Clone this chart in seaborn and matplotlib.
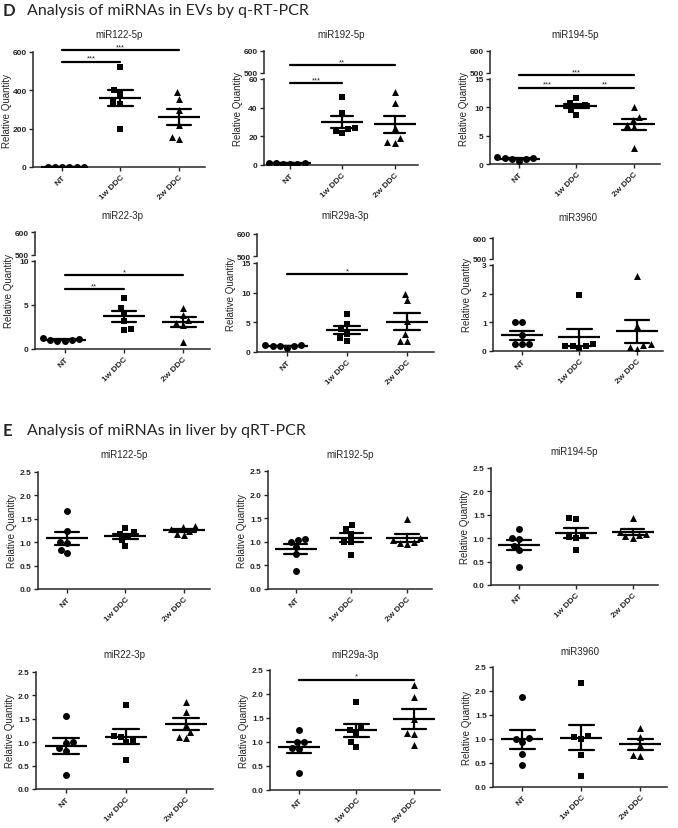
import numpy as np
import pandas as pd
import matplotlib
matplotlib.use("Agg")
import matplotlib.pyplot as plt
import seaborn as sns

# ---------------- data ----------------
groups = ["NT", "1w DDC", "2w DDC"]
group_markers = ["o", "s", "^"]

# Panel D: miRNAs in EVs (q-RT-PCR), lists = [NT, 1w DDC, 2w DDC]
ev_mir122_5p = [[0.8, 1.0, 1.2, 0.9, 1.1, 1.0],
                [520, 400, 380, 340, 330, 200],
                [390, 355, 300, 220, 145, 155]]
ev_mir192_5p = [[1.2, 0.8, 1.5, 1.0, 0.9, 1.1],
                [47.6, 36, 26, 25, 24, 22],
                [50.7, 43, 25.5, 19, 15.5, 16]]
ev_mir194_5p = [[1.0, 0.9, 1.2, 0.5, 0.8, 1.0],
                [11.7, 10.8, 10.5, 10.2, 9.6, 8.7],
                [10.0, 8.3, 7.7, 6.8, 6.5, 2.9]]
ev_mir22_3p = [[1.1, 1.0, 0.9, 1.3, 1.0, 0.9],
               [5.8, 4.7, 4.0, 3.2, 2.3, 2.2],
               [4.7, 3.9, 3.3, 2.9, 2.7, 0.8]]
ev_mir29a_3p = [[1.0, 1.0, 0.7, 1.2, 1.0, 1.1],
                [6.45, 4.8, 3.8, 3.1, 2.3, 1.9],
                [9.8, 8.7, 5.2, 3.0, 1.9, 1.9]]
ev_mir3960 = [[1.0, 1.0, 0.55, 0.25, 0.25, 0.25],
              [1.95, 0.26, 0.18, 0.18, 0.18, 0.1],
              [2.6, 0.86, 0.24, 0.2, 0.15, 0.08]]

# Panel E: miRNAs in liver (qRT-PCR)
liver_mir122_5p = [[1.66, 1.24, 1.0, 0.98, 0.84, 0.77],
                   [1.31, 1.21, 1.18, 1.11, 1.04, 0.91],
                   [1.35, 1.32, 1.28, 1.25, 1.18, 1.15]]
liver_mir192_5p = [[1.05, 1.03, 1.0, 0.89, 0.74, 0.39],
                   [1.35, 1.27, 1.17, 1.0, 0.99, 0.71],
                   [1.49, 1.08, 1.03, 0.99, 0.98, 0.96]]
liver_mir194_5p = [[1.19, 1.0, 0.99, 0.84, 0.74, 0.38],
                   [1.43, 1.41, 1.06, 1.02, 1.0, 0.74],
                   [1.44, 1.13, 1.09, 1.07, 1.04, 1.01]]
liver_mir22_3p = [[1.55, 1.0, 0.99, 0.88, 0.82, 0.29],
                  [1.79, 1.14, 1.11, 1.04, 1.0, 0.63],
                  [1.86, 1.64, 1.37, 1.21, 1.11, 1.09]]
liver_mir29a_3p = [[1.25, 1.0, 0.99, 0.88, 0.85, 0.36],
                   [1.84, 1.3, 1.26, 1.19, 1.0, 0.9],
                   [2.18, 1.94, 1.47, 1.18, 1.16, 0.94]]
liver_mir3960 = [[1.88, 1.02, 1.01, 0.94, 0.69, 0.45],
                 [2.17, 1.06, 1.04, 1.0, 0.66, 0.22],
                 [1.23, 1.04, 0.87, 0.66, 0.65]]

panel_titles = ["miR122-5p", "miR192-5p", "miR194-5p", "miR22-3p", "miR29a-3p", "miR3960"]
ev_yticks = [[0, 200, 400, 600], [0, 20, 40, 60], [0, 5, 10, 15],
             [0, 5, 10], [0, 5, 10, 15], [0, 1, 2, 3]]
break_ticks = [500, 600]
liver_yticks = [0.0, 0.5, 1.0, 1.5, 2.0, 2.5]

# significance annotations: (panel, x0, x1, y, text, segment)
ev_sig = [(0, 0, 1, 550, "***", "low"), (0, 0, 2, 609, "***", "low"),
          (1, 0, 1, 57, "***", "low"), (1, 0, 2, 535, "**", "top"),
          (2, 0, 1, 13.5, "***", "low"), (2, 1, 2, 13.5, "**", "low"), (2, 0, 2, 15.7, "***", "low"),
          (3, 0, 1, 6.8, "**", "low"), (3, 0, 2, 8.4, "*", "low"),
          (4, 0, 2, 13.1, "*", "low")]
liver_sig = [(4, 0, 2, 2.30, "*")]

# ---------------- style ----------------
sns.set_theme(style="ticks")
plt.rcParams["font.family"] = ["Liberation Sans", "DejaVu Sans"]
plt.rcParams["axes.linewidth"] = 1.1

W, H = 678, 829
fig = plt.figure(figsize=(W / 100, H / 100), dpi=100)


def px_axes(x0, x1, ytop, ybot):
    return fig.add_axes([x0 / W, 1 - ybot / H, (x1 - x0) / W, (ybot - ytop) / H])


def style_axes(ax):
    sns.despine(ax=ax)
    ax.tick_params(axis="both", direction="out", length=3, width=1.0, labelsize=6, pad=1.5)
    for lab in ax.get_yticklabels() + ax.get_xticklabels():
        lab.set_fontweight("bold")
    ax.set_xlabel("")
    ax.set_ylabel("")
    ax.set_xlim(-0.5, 2.45)


def draw_data(ax, values):
    df = pd.DataFrame({"group": np.repeat(groups, [len(v) for v in values]),
                       "value": np.concatenate(values)})
    for g, m in zip(groups, group_markers):
        sns.swarmplot(data=df[df["group"] == g], x="group", y="value", order=groups,
                      marker=m, color="black", size=5, ax=ax, warn_thresh=1.0)
    sns.pointplot(data=df, x="group", y="value", order=groups, errorbar="se",
                  color="black", markers="_", linestyle="none", capsize=0.42,
                  markersize=30, markeredgewidth=1.6, markeredgecolor="black",
                  err_kws={"linewidth": 1.6}, ax=ax, zorder=5)


def set_xcats(ax):
    ax.set_xticks(range(3))
    ax.set_xticklabels(groups, rotation=45, ha="right", rotation_mode="anchor",
                       fontsize=6, fontweight="bold")


def sig_bar(ax, x0, x1, y, text):
    ax.plot([x0, x1], [y, y], color="black", lw=1.6, clip_on=False, zorder=6)
    ax.text((x0 + x1) / 2, y, text, ha="center", va="bottom", fontsize=5.5, clip_on=False)


def panel_label(x_spine, x_end, ytop, ybot, ytitle, title):
    fig.text((x_spine + x_end) / 2 / W, 1 - ytitle / H, title, ha="center", va="center",
             fontsize=7)
    fig.text((x_spine - 26) / W, 1 - (ytop + ybot) / 2 / H, "Relative Quantity",
             rotation=90, ha="center", va="center", fontsize=7)


# layout in pixels: (spine x, end x, top, top-seg bottom, low-seg top, bottom, title y)
ev_layout = [(33, 205, 53, None, None, 168, 35),
             (264, 418, 52, 74, 80, 166, 35),
             (490, 660, 52, 74, 80, 165, 35),
             (35, 210, 233, 256, 262, 350, 216),
             (257, 434, 235, 257, 264, 353, 216),
             (493, 663, 239, 260, 266, 352, 218)]
liver_layout = [(38, 210, 473, 590, 455),
                (268, 432, 472, 590, 455),
                (491, 658, 469, 586, 452),
                (36, 213, 673, 790, 655),
                (270, 440, 671, 791, 655),
                (493, 667, 668, 788, 652)]

ev_data = [ev_mir122_5p, ev_mir192_5p, ev_mir194_5p, ev_mir22_3p, ev_mir29a_3p, ev_mir3960]
liver_data = [liver_mir122_5p, liver_mir192_5p, liver_mir194_5p,
              liver_mir22_3p, liver_mir29a_3p, liver_mir3960]

# ---------------- panel D ----------------
ev_axes = []
for i, (xs, xe, yt, ytb, ylt, yb, ytl) in enumerate(ev_layout):
    if ytb is None:
        low = px_axes(xs, xe, yt, yb)
        top = None
    else:
        top = px_axes(xs, xe, yt, ytb)
        low = px_axes(xs, xe, ylt, yb)
    draw_data(low, ev_data[i])
    style_axes(low)
    low.set_ylim(0, ev_yticks[i][-1])
    low.set_yticks(ev_yticks[i])
    set_xcats(low)
    if top is not None:
        style_axes(top)
        top.set_ylim(break_ticks[0], break_ticks[-1])
        top.set_yticks(break_ticks)
        top.set_yticklabels([str(t) for t in break_ticks], fontsize=6, fontweight="bold")
        top.spines["bottom"].set_visible(False)
        top.set_xticks([])
    ev_axes.append((top, low))
    panel_label(xs, xe, yt, yb, ytl, panel_titles[i])

for (p, x0, x1, y, txt, seg) in ev_sig:
    top, low = ev_axes[p]
    sig_bar(top if seg == "top" else low, x0, x1, y, txt)

# ---------------- panel E ----------------
liver_axes = []
for i, (xs, xe, yt, yb, ytl) in enumerate(liver_layout):
    ax = px_axes(xs, xe, yt, yb)
    draw_data(ax, liver_data[i])
    style_axes(ax)
    ax.set_ylim(0, 2.5)
    ax.set_yticks(liver_yticks)
    ax.set_yticklabels([f"{t:.1f}" for t in liver_yticks], fontsize=6, fontweight="bold")
    set_xcats(ax)
    liver_axes.append(ax)
    panel_label(xs, xe, yt, yb, ytl, panel_titles[i])

for (p, x0, x1, y, txt) in liver_sig:
    sig_bar(liver_axes[p], x0, x1, y, txt)

# ---------------- section headers ----------------
fig.text(3 / W, 1 - 11 / H, "D", fontsize=12, fontweight="bold", family="Lato", va="center")
fig.text(27 / W, 1 - 11 / H, "Analysis of miRNAs in EVs by q-RT-PCR", fontsize=11.5,
         family="Lato", va="center")
fig.text(3 / W, 1 - 431 / H, "E", fontsize=12, fontweight="bold", family="Lato", va="center")
fig.text(27 / W, 1 - 431 / H, "Analysis of miRNAs in liver by qRT-PCR", fontsize=11.5,
         family="Lato", va="center")

fig.savefig("out.png", dpi=100)
